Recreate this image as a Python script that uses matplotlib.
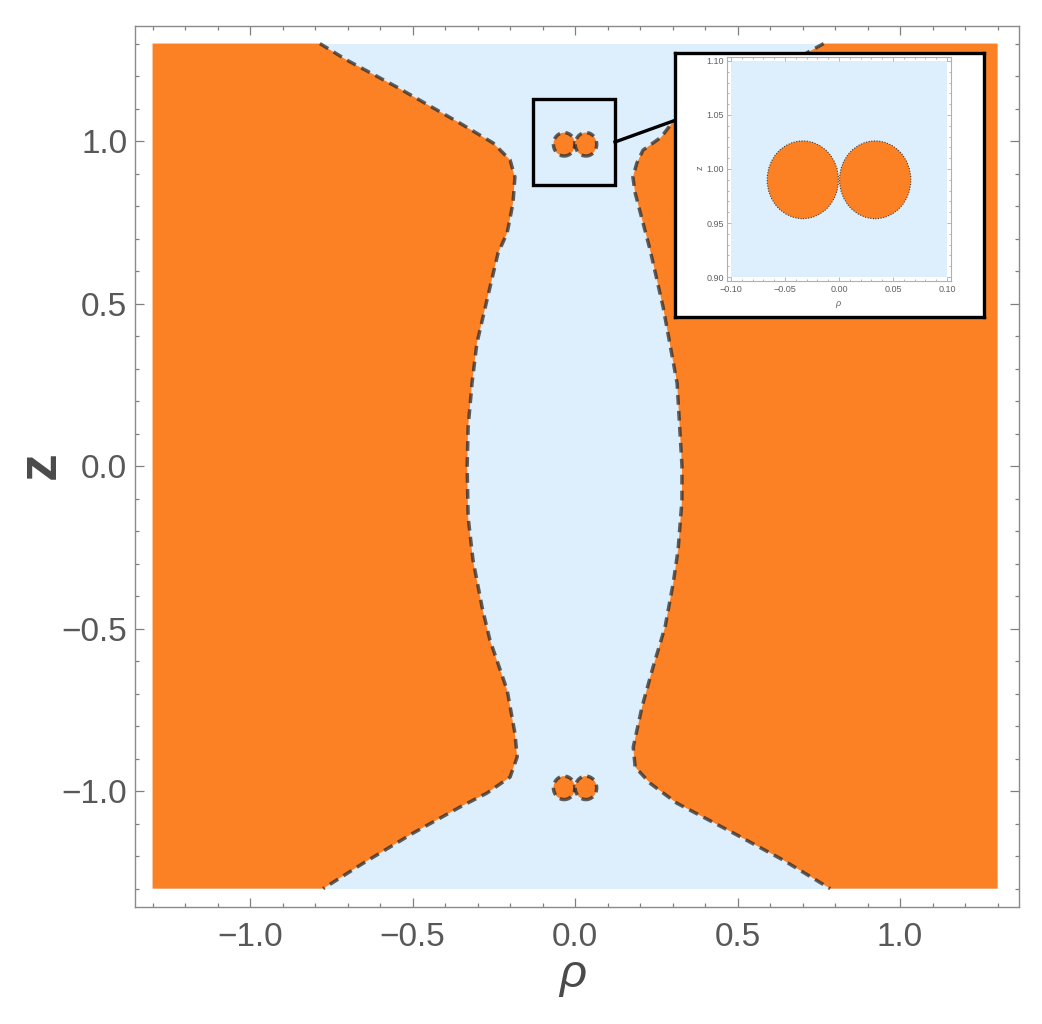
import matplotlib
matplotlib.use("Agg")
import matplotlib.pyplot as plt
from matplotlib.patches import Rectangle, Ellipse
from matplotlib.lines import Line2D

# ---------------- data ----------------
rho_range = [-1.3, 1.3]
z_range = [-1.3, 1.3]

# left boundary of the blue (allowed) region
z_left = [1.30, 1.249, 1.166, 1.055, 0.994, 0.942, 0.889, 0.809, 0.717, 0.655,
          0.511, 0.378, 0.255, 0.12, 0.0, -0.157, -0.289, -0.434, -0.535, -0.689,
          -0.822, -0.895, -0.957, -1.006, -1.049, -1.129, -1.222, -1.30]
rho_left = [-0.785, -0.702, -0.548, -0.354, -0.252, -0.200, -0.185, -0.191, -0.209, -0.237,
            -0.271, -0.302, -0.317, -0.329, -0.332, -0.329, -0.314, -0.286, -0.262, -0.209,
            -0.185, -0.178, -0.200, -0.271, -0.354, -0.498, -0.652, -0.775]

# right boundary
z_right = [1.30, 1.17, 1.058, 1.012, 0.972, 0.932, 0.889, 0.84, 0.665, 0.489,
           0.255, 0.0, -0.105, -0.258, -0.36, -0.495, -0.618, -0.741, -0.865, -0.926,
           -0.976, -1.037, -1.129, -1.212, -1.30]
rho_right = [0.765, 0.53, 0.300, 0.265, 0.209, 0.190, 0.178, 0.185, 0.231, 0.271,
             0.314, 0.329, 0.329, 0.317, 0.302, 0.277, 0.240, 0.206, 0.179, 0.185,
             0.231, 0.313, 0.487, 0.640, 0.785]

# small lobes near z = +-1
lobe_rho = [-0.0335, 0.0335, -0.0335, 0.0335]
lobe_z = [0.99, 0.99, -0.99, -0.99]
lobe_a = 0.033
lobe_b = 0.036

# zoom marker box (data coords) and inset range
box_rho = [-0.128, 0.124]
box_z = [0.865, 1.128]
inset_rho = [-0.1, 0.1]
inset_z = [0.9, 1.1]

main_ticks = [-1.0, -0.5, 0.0, 0.5, 1.0]
main_ticklabels = ["\u22121.0", "\u22120.5", "0.0", "0.5", "1.0"]
inset_xticks = [-0.10, -0.05, 0.0, 0.05, 0.10]
inset_xticklabels = ["\u22120.10", "\u22120.05", "0.00", "0.05", "0.10"]
inset_yticks = [0.90, 0.95, 1.00, 1.05, 1.10]
inset_yticklabels = ["0.90", "0.95", "1.00", "1.05", "1.10"]

# ---------------- style ----------------
ORANGE = "#FC8124"
BLUE = "#DDEEFC"
DASH = (0.15, 0.15, 0.15, 0.72)
FONT = ["Liberation Sans", "DejaVu Sans"]
plt.rcParams["font.family"] = FONT

W, H = 1042, 1024
fig = plt.figure(figsize=(W / 100, H / 100), dpi=100)

def fx(px):
    return px / W

def fy(py):
    return 1 - py / H

# main axes
ax = fig.add_axes([fx(135), fy(906.5), fx(1019) - fx(135), fy(26) - fy(906.5)])
ax.set_xlim(-1.354, 1.366)
ax.set_ylim(-1.355, 1.354)
ax.set_facecolor("white")

ax.add_patch(Rectangle((rho_range[0], z_range[0]), rho_range[1] - rho_range[0],
                       z_range[1] - z_range[0], facecolor=BLUE, edgecolor="none", zorder=1))
ax.fill_betweenx(z_left, rho_range[0], rho_left, facecolor=ORANGE, edgecolor="none", zorder=2)
ax.fill_betweenx(z_right, rho_right, rho_range[1], facecolor=ORANGE, edgecolor="none", zorder=2)
ax.plot(rho_left, z_left, color=DASH, lw=2.5, dashes=(2.8, 1.8), zorder=3,
        solid_capstyle="butt", dash_capstyle="butt")
ax.plot(rho_right, z_right, color=DASH, lw=2.5, dashes=(2.8, 1.8), zorder=3,
        dash_capstyle="butt")
for cr, cz in zip(lobe_rho, lobe_z):
    ax.add_patch(Ellipse((cr, cz), 2 * lobe_a, 2 * lobe_b, facecolor=ORANGE,
                         edgecolor=DASH, lw=2.5, linestyle=(0, (2.2, 1.6)), zorder=3))

ax.add_patch(Rectangle((box_rho[0], box_z[0]), box_rho[1] - box_rho[0], box_z[1] - box_z[0],
                       facecolor="none", edgecolor="black", lw=2.4, zorder=10))

ax.set_xticks(main_ticks)
ax.set_xticklabels(main_ticklabels)
ax.set_yticks(main_ticks)
ax.set_yticklabels(main_ticklabels)
ax.set_xticks([v / 10 for v in range(-13, 14)], minor=True)
ax.set_yticks([v / 10 for v in range(-13, 14)], minor=True)
ax.tick_params(which="both", direction="in", top=True, right=True, color="#808080", width=0.9)
ax.tick_params(which="major", length=6.5)
ax.tick_params(which="minor", length=3.2)
ax.tick_params(axis="x", which="major", labelsize=24, labelcolor="#585858", pad=11.5)
ax.tick_params(axis="y", which="major", labelsize=24, labelcolor="#585858", pad=5.5)
for s in ax.spines.values():
    s.set_color("#8a8a8a")
    s.set_linewidth(1.0)

fig.text(fx(573), fy(987), "\u03c1", ha="center", va="baseline", fontsize=34,
         fontstyle="italic", color="#4a4a4a", family=FONT)
fig.text(fx(41), fy(465), "z", ha="center", va="center", rotation=90, fontsize=40,
         fontweight="bold", color="#4a4a4a", family=FONT)

# connector line
fig.add_artist(Line2D([fx(615), fx(676)], [fy(142), fy(120)], color="black", lw=2.4,
                      transform=fig.transFigure, zorder=3))

# inset box
bx = fig.add_axes([fx(675), fy(317), fx(984) - fx(675), fy(53) - fy(317)], zorder=4)
bx.set_xticks([])
bx.set_yticks([])
bx.set_facecolor("white")
for s in bx.spines.values():
    s.set_color("black")
    s.set_linewidth(2.4)

# inset axes
ix = fig.add_axes([fx(727), fy(281), fx(951) - fx(727), fy(57) - fy(281)], zorder=5)
pad = 0.0037
ix.set_xlim(inset_rho[0] - pad, inset_rho[1] + pad)
ix.set_ylim(inset_z[0] - pad, inset_z[1] + pad)
ix.set_facecolor("white")
ix.add_patch(Rectangle((inset_rho[0], inset_z[0]), inset_rho[1] - inset_rho[0],
                       inset_z[1] - inset_z[0], facecolor=BLUE, edgecolor="none", zorder=1))
for cr, cz in zip(lobe_rho[:2], lobe_z[:2]):
    ix.add_patch(Ellipse((cr, cz), 2 * lobe_a, 2 * lobe_b, facecolor=ORANGE,
                         edgecolor=(0.15, 0.15, 0.15, 0.85), lw=0.8,
                         linestyle=(0, (1.0, 1.4)), zorder=3))
ix.set_xticks(inset_xticks)
ix.set_xticklabels(inset_xticklabels)
ix.set_yticks(inset_yticks)
ix.set_yticklabels(inset_yticklabels)
ix.set_xticks([v / 100 for v in range(-10, 11)], minor=True)
ix.set_yticks([v / 100 for v in range(90, 111)], minor=True)
ix.tick_params(which="both", direction="in", top=True, right=True, color="#9a9a9a", width=0.5)
ix.tick_params(which="major", length=3)
ix.tick_params(which="minor", length=1.5)
ix.tick_params(axis="x", which="major", labelsize=6.5, labelcolor="#606060", pad=3)
ix.tick_params(axis="y", which="major", labelsize=6.5, labelcolor="#606060", pad=2)
for s in ix.spines.values():
    s.set_color("#b0b0b0")
    s.set_linewidth(0.8)

fig.text(fx(838), fy(303), "\u03c1", ha="center", va="center", fontsize=6.5,
         fontstyle="italic", color="#606060", zorder=6)
fig.text(fx(700), fy(168), "z", ha="center", va="center", rotation=90, fontsize=6.5,
         color="#606060", zorder=6)

fig.savefig("out.png", dpi=100)
